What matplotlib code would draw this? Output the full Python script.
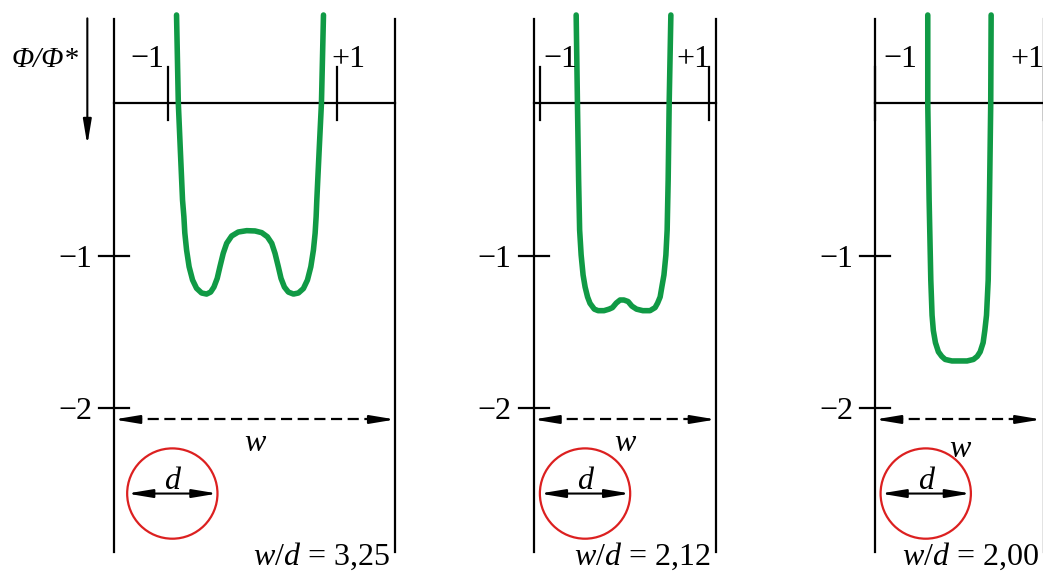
import matplotlib
matplotlib.use("Agg")
import matplotlib.pyplot as plt
from matplotlib.patches import Ellipse

plt.rcParams["font.family"] = ["Liberation Serif", "DejaVu Serif"]
plt.rcParams["mathtext.fontset"] = "custom"
plt.rcParams["mathtext.rm"] = "Liberation Serif"
plt.rcParams["mathtext.it"] = "Liberation Serif:italic"

# values: x in slot units (ticks at -1/+1), y = Phi/Phi*
ratios = ["3,25", "2,12", "2,00"]
wall_left = [-1.64, -1.08, -1.00]
wall_right = [1.69, 1.08, 1.00]
circle_x = [-0.95, -0.47, -0.40]
circle_y = -2.56
circle_d = 1.07
w_arrow_y = -2.074
y_ticks = [-1, -2]
y_ticklabels = ["\u22121", "\u22122"]

u1 = [-0.900, -0.879, -0.855, -0.829, -0.813, -0.802, -0.781, -0.751, -0.710,
      -0.663, -0.603, -0.544, -0.496, -0.457, -0.418, -0.386, -0.347, -0.306,
      -0.247, -0.169, -0.069, 0.030, 0.109, 0.176, 0.228, 0.267, 0.306, 0.338,
      0.378, 0.425, 0.485, 0.544, 0.603, 0.651, 0.691, 0.722, 0.742, 0.754,
      0.762, 0.790, 0.817, 0.841]
v1 = [0.580, 0.003, -0.306, -0.634, -0.743, -0.850, -0.962, -1.072, -1.159,
      -1.213, -1.244, -1.251, -1.238, -1.205, -1.148, -1.072, -0.984, -0.918,
      -0.870, -0.844, -0.835, -0.837, -0.848, -0.875, -0.918, -0.984, -1.072,
      -1.148, -1.205, -1.238, -1.251, -1.244, -1.215, -1.159, -1.072, -0.962,
      -0.852, -0.743, -0.634, -0.306, 0.003, 0.580]

u2 = [-0.575, -0.560, -0.546, -0.534, -0.516, -0.493, -0.469, -0.440, -0.411,
      -0.36, -0.315, -0.245, -0.185, -0.145, -0.10, -0.055, -0.01, 0.04, 0.085,
      0.14, 0.215, 0.30, 0.36, 0.39, 0.42, 0.44, 0.465, 0.488, 0.503, 0.515,
      0.527, 0.547]
v2 = [0.58, 0.003, -0.503, -0.831, -0.995, -1.126, -1.205, -1.270, -1.312,
      -1.35, -1.36, -1.36, -1.35, -1.34, -1.31, -1.29, -1.29, -1.30, -1.33,
      -1.35, -1.36, -1.36, -1.34, -1.31, -1.27, -1.205, -1.126, -0.995, -0.831,
      -0.503, 0.003, 0.58]

u3 = [-0.376, -0.376, -0.36, -0.34, -0.325, -0.31, -0.285, -0.25, -0.21, -0.17,
      -0.09, 0.0, 0.09, 0.165, 0.21, 0.245, 0.28, 0.30, 0.32, 0.34,
      0.355, 0.37, 0.375]
v3 = [0.58, 0.00, -0.63, -1.16, -1.39, -1.49, -1.57, -1.63, -1.66, -1.68,
      -1.69, -1.69, -1.69, -1.68, -1.66, -1.63, -1.57, -1.49, -1.39, -1.16,
      -0.63, 0.00, 0.58]
curves = [(u1, v1), (u2, v2), (u3, v3)]

# page layout in pixels
W, H = 1043, 571
SX, SY, Y0 = 84.4, 152.4, 103.4
centres = [252.5, 624.7, 959.5]
bounds = [(0, 440), (440, 790), (790, 1043)]
green = "#109a45"
red = "#dc2020"
FS = 23

fig = plt.figure(figsize=(W / 100, H / 100), dpi=100)
head = "-|>,head_length=1.5,head_width=0.25"

for i, (c, (l, r)) in enumerate(zip(centres, bounds)):
    ax = fig.add_axes([l / W, 0, (r - l) / W, 1])
    xmax = (r - c) / SX
    ax.set_xlim((l - c) / SX, xmax)
    ax.set_ylim(-(H - Y0) / SY, Y0 / SY)
    ax.axis("off")
    wl, wr = wall_left[i], wall_right[i]

    # walls and zero line
    for xw in (wl, wr):
        ax.plot([xw, xw], [0.554, -2.944], color="k", lw=1.6)
    ax.plot([wl, wr], [0, 0], color="k", lw=1.6)
    for t in (-1, 1):
        ax.plot([t, t], [0.239, -0.109], color="k", lw=1.6)
    if i == 0:
        ax.text(-1.05, 0.242, "\u22121", ha="right", va="baseline", fontsize=FS)
        ax.text(0.93, 0.242, "+1", ha="left", va="baseline", fontsize=FS)
    else:
        ax.text(-1 + (0.04 if i == 1 else 0.1), 0.242, "\u22121", ha="left",
                va="baseline", fontsize=FS)
        ax.text(1.01, 0.242, "+1", ha="right", va="baseline", fontsize=FS)

    # y ticks on the left wall
    for yt, lab in zip(y_ticks, y_ticklabels):
        ax.plot([wl - 0.178, wl + 0.178], [yt, yt], color="k", lw=1.6)
        ax.text(wl - 0.26, yt - 0.074, lab, ha="right", va="baseline",
                fontsize=FS)

    # potential curve
    u, v = curves[i]
    ax.plot(u, v, color=green, lw=4.0, solid_capstyle="round",
            solid_joinstyle="round")

    # slot width arrow (right end kept inside the page)
    ar = min(wr, xmax - 0.02)
    ax.plot([wl + 0.2, ar - 0.2], [w_arrow_y, w_arrow_y], color="k", lw=1.6,
            ls=(0, (5, 2.5)))
    for x0, x1 in ((wl + 0.24, wl), (ar - 0.24, ar)):
        ax.annotate("", xy=(x1, w_arrow_y), xytext=(x0, w_arrow_y),
                    arrowprops=dict(arrowstyle=head, color="k", lw=1.5,
                                    shrinkA=0, shrinkB=0, mutation_scale=10))
    ax.text((wl + wr) / 2, -2.28 if i < 2 else -2.32, "w", style="italic",
            ha="center", va="baseline", fontsize=FS)

    # particle of diameter d
    cx = circle_x[i]
    ax.add_patch(Ellipse((cx, circle_y), circle_d, circle_d * SX / SY,
                         fill=False, ec=red, lw=1.6))
    ax.annotate("", xy=(cx - circle_d / 2, circle_y),
                xytext=(cx + circle_d / 2, circle_y),
                arrowprops=dict(arrowstyle="<|-|>,head_length=1.5,head_width=0.25",
                                color="k", lw=1.5, shrinkA=0, shrinkB=0,
                                mutation_scale=10))
    ax.text(cx, -2.533, "d", style="italic", ha="center", va="baseline",
            fontsize=FS)

    ax.text(wr - 0.06, -3.03, "$w/d$ = " + ratios[i], ha="right",
            va="baseline", fontsize=FS)

    if i == 0:
        ax.text(-2.853, 0.24, "\u03a6/\u03a6*", style="italic", ha="left",
                va="baseline", fontsize=21)
        ax.annotate("", xy=(-1.957, -0.273), xytext=(-1.957, 0.558),
                    arrowprops=dict(arrowstyle=head, color="k", lw=1.5,
                                    shrinkA=0, shrinkB=0, mutation_scale=10))

fig.savefig("out.png", dpi=100, facecolor="white")
